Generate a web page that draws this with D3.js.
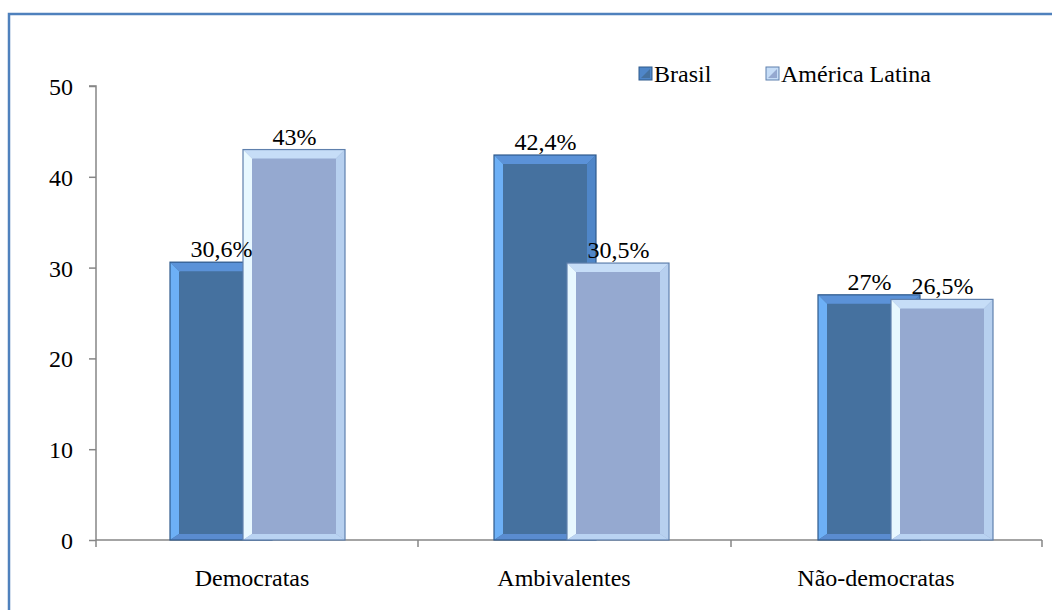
<!DOCTYPE html>
<html>
<head>
<meta charset="utf-8">
<script src="https://cdn.jsdelivr.net/npm/d3@7"></script>
<style>
  html, body { margin: 0; padding: 0; background: #fff; }
  svg { display: block; }
  .lbl { font-family: "Liberation Serif"; font-size: 24px; fill: #000; }
</style>
</head>
<body>
<svg id="chart" width="1052" height="610"></svg>
<script>
// Attitudes towards democracy: Brasil vs América Latina (%)
const categories = ["Democratas", "Ambivalentes", "Não-democratas"];
const seriesNames = ["Brasil", "América Latina"];
const brasil = [30.6, 42.4, 27];
const americaLatina = [43, 30.5, 26.5];
const valueLabels = [["30,6%", "42,4%", "27%"], ["43%", "30,5%", "26,5%"]];
const yTicks = [0, 10, 20, 30, 40, 50];

const series = [brasil, americaLatina];

// Bevelled bar palettes: face, top, left, right, bottom, outline
const palettes = [
  { face: "#45719f", top: "#5b92d8", left: "#6db0f6", right: "#4f86c8", bottom: "#5a8cd0", stroke: "#2f5a8c" },
  { face: "#95a9d0", top: "#c6ddf7", left: "#e8f8ff", right: "#b7d0ef", bottom: "#b9d3f2", stroke: "#5f80ad" }
];

const svg = d3.select("#chart");
const txt = sel => sel.attr("class", "lbl");

// outer chart frame
svg.append("rect")
  .attr("x", 9).attr("y", 14)
  .attr("width", 1100).attr("height", 700)
  .attr("fill", "none").attr("stroke", "#4f81bd").attr("stroke-width", 2.5);

const x0 = 96, yTop = 86, yBase = 540;
const y = d3.scaleLinear().domain([0, 50]).range([yBase, yTop]);

// bands for bar groups and for category labels
const xBars = d3.scaleBand().domain(categories).range([x0, x0 + 972]);
const xLabels = d3.scaleBand().domain(categories).range([x0, x0 + 936]);

const barW = 103, overlap = 30;
const groupW = barW * 2 - overlap;

// y axis
const yAxis = d3.axisLeft(y).tickValues(yTicks).tickSize(7).tickPadding(16).tickFormat(d3.format("d"));
const gy = svg.append("g").attr("transform", `translate(${x0},0)`).call(yAxis)
  .attr("font-family", null).attr("font-size", null);
gy.select(".domain").attr("stroke", "#868686").attr("stroke-width", 1.5).attr("d", `M-7,${yTop}H0V${yBase}`);
gy.selectAll(".tick line").attr("stroke", "#868686").attr("stroke-width", 1.5);
gy.selectAll(".tick text").call(txt).attr("dy", "0.35em");

// x axis line and ticks
const xEnd = 1042;
svg.append("line").attr("x1", x0).attr("x2", xEnd).attr("y1", yBase).attr("y2", yBase)
  .attr("stroke", "#868686").attr("stroke-width", 1.5);
const xTickPos = [x0, 418, 731, xEnd];
svg.selectAll(".xtick").data(xTickPos).join("line")
  .attr("x1", d => d).attr("x2", d => d).attr("y1", yBase).attr("y2", yBase + 7)
  .attr("stroke", "#868686").attr("stroke-width", 1.5);

svg.selectAll(".catlabel").data(categories).join("text")
  .call(txt)
  .attr("x", d => xLabels(d) + xLabels.bandwidth() / 2)
  .attr("y", 586)
  .attr("text-anchor", "middle")
  .text(d => d);

function bevelBar(g, x, yT, w, h, p) {
  const b = 9, bb = 6;
  const x2 = x + w, y2 = yT + h;
  g.append("rect").attr("x", x).attr("y", yT).attr("width", w).attr("height", h).attr("fill", p.face);
  const poly = (pts, fill) => g.append("polygon").attr("points", pts.map(q => q.join(",")).join(" ")).attr("fill", fill);
  poly([[x, yT], [x2, yT], [x2 - b, yT + b], [x + b, yT + b]], p.top);
  poly([[x, yT], [x + b, yT + b], [x + b, y2 - bb], [x, y2]], p.left);
  poly([[x2, yT], [x2, y2], [x2 - b, y2 - bb], [x2 - b, yT + b]], p.right);
  poly([[x, y2], [x + b, y2 - bb], [x2 - b, y2 - bb], [x2, y2]], p.bottom);
  g.append("rect").attr("x", x).attr("y", yT).attr("width", w).attr("height", h)
    .attr("fill", "none").attr("stroke", p.stroke).attr("stroke-width", 1.2);
}

// bars: Brasil drawn first, América Latina overlaps in front
series.forEach((vals, si) => {
  const g = svg.append("g");
  vals.forEach((v, i) => {
    const gx = xBars(categories[i]) + (xBars.bandwidth() - groupW) / 2;
    const bx = gx + si * (barW - overlap);
    bevelBar(g, bx, y(v), barW - 1, yBase - y(v), palettes[si]);
  });
});

// value labels
series.forEach((vals, si) => {
  svg.selectAll(".vl" + si).data(vals).join("text")
    .call(txt)
    .attr("x", (v, i) => {
      const gx = xBars(categories[i]) + (xBars.bandwidth() - groupW) / 2;
      return gx + si * (barW - overlap) + barW / 2;
    })
    .attr("y", v => y(v) - 5)
    .attr("text-anchor", "middle")
    .text((v, i) => valueLabels[si][i]);
});

// legend
const legendX = [639, 766];
const lg = svg.append("g");
seriesNames.forEach((name, si) => {
  const p = palettes[si];
  const lx = legendX[si], ly = 67;
  const m = lg.append("g");
  m.append("rect").attr("x", lx).attr("y", ly).attr("width", 13).attr("height", 13)
    .attr("fill", si === 0 ? "#4f86c8" : "#c6ddf7").attr("stroke", p.stroke).attr("stroke-width", 1);
  m.append("polygon").attr("points", `${lx + 2},${ly + 11} ${lx + 11},${ly + 2} ${lx + 11},${ly + 11}`)
    .attr("fill", p.face);
  lg.append("text").call(txt).attr("x", lx + 15).attr("y", 82).text(name);
});
</script>
</body>
</html>
